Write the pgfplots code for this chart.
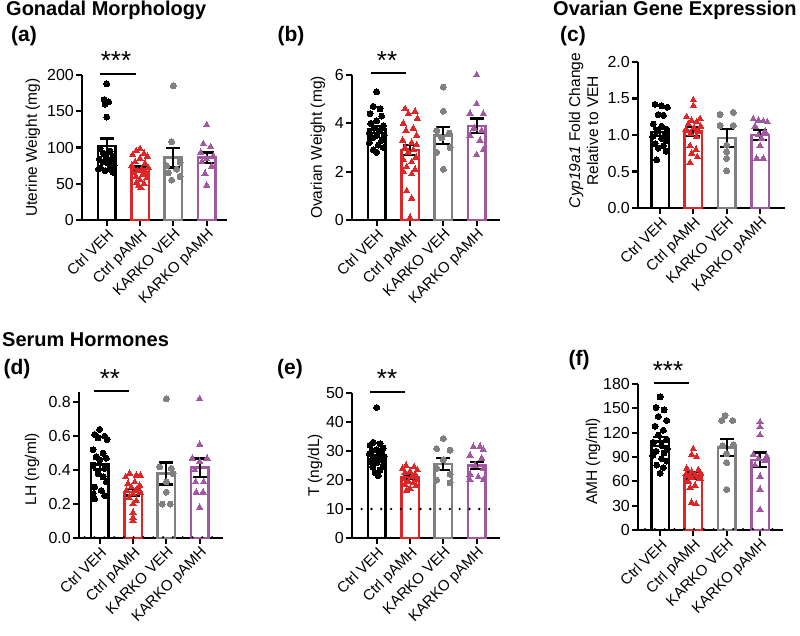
\documentclass[border=0pt]{standalone}
\usepackage{fontspec}
\setmainfont{Liberation Sans}
\usepackage{pgfplots}
\pgfplotsset{compat=1.18}
\definecolor{cred}{RGB}{222,38,38}
\definecolor{cgray}{RGB}{128,128,128}
\definecolor{cpurp}{RGB}{160,88,160}
\newcommand{\tickfont}{\fontsize{16}{18}\selectfont}
\newcommand{\xtickfont}{\fontsize{15}{17}\selectfont}
\newcommand{\labfont}{\fontsize{15.5}{18}\selectfont}
\newcommand{\titlefont}{\fontsize{20}{22}\selectfont\bfseries}
\newcommand{\letfont}{\fontsize{21}{23}\selectfont\bfseries}
\newcommand{\starfont}{\fontsize{26}{28}\selectfont}
\pgfplotsset{
  prism/.style={
    scale only axis, anchor=south west,
    axis x line*=bottom, axis y line*=left,
    axis line style={line width=2.2pt, -},
    tick style={line width=2.2pt, black},
    tick align=outside, major tick length=6pt,
    xtick={0,1,2,3},
    xticklabels={Ctrl VEH, Ctrl pAMH, KARKO VEH, KARKO pAMH},
    xticklabel style={rotate=45, anchor=north east, inner sep=1pt, font=\xtickfont},
    yticklabel style={font=\tickfont, inner sep=2pt},
    ymin=0, clip=false,
    /pgf/number format/assume math mode=true,
  },
  ylab/.style 2 args={every axis y label/.style={at={(axis description cs:#1,#2)}, rotate=90, anchor=center, font=\labfont, align=center}},
  pbar/.style={ybar, bar shift=0pt, bar width=17.5pt, fill=white, draw=#1, line width=2.5pt},
  pdot/.style={only marks, mark=*, mark size=3pt, color=#1, mark options={draw=#1, fill=#1, line width=0pt}},
  ptri/.style={only marks, mark=triangle*, mark size=3.7pt, color=#1, mark options={fill=#1, draw=#1, line width=0pt}},
  perr/.style={draw=none, mark=none, forget plot, error bars/.cd, y dir=both, y explicit,
     error bar style={draw=black, solid, line width=2.3pt},
     error mark options={draw=black, solid, line width=2.3pt, mark size=7pt, rotate=90}},
  pdotline/.style={black, line width=2.6pt, line cap=round, dash pattern=on 0pt off 9.8pt},
}
\begin{document}
\begin{tikzpicture}
\useasboundingbox (0,0) rectangle (800pt,-635pt);

% ---------- (a) ----------
\begin{axis}[prism, at={(82pt,-220pt)}, width=145pt, height=145pt,
  xmin=-0.74, xmax=3.61, ymax=200, ytick={0,50,100,150,200},
  ylabel={Uterine Weight (mg)}, ylab={-0.338}{0.5}]
\addplot[pbar=black] coordinates {(0,102)};
\addplot[pbar=cred] coordinates {(1,70.5)};
\addplot[pbar=cgray] coordinates {(2,86)};
\addplot[pbar=cpurp] coordinates {(3,86)};
\addplot[pdot=black] coordinates {(0,188) (-0.08,166) (0.06,163) (-0.05,160) (0,142) (-0.2,98) (0.1,95) (-0.1,92) (0.2,88) (0,86) (-0.22,84) (0.15,82) (-0.12,80) (0.05,78) (0.22,75) (-0.18,72) (0.1,70) (-0.05,68) (0.18,66) (-0.25,70)};
\addplot[ptri=cred] coordinates {(1,98) (0.88,95) (1.12,92) (0.78,90) (1.22,88) (1,85) (0.85,80) (1.15,78) (0.75,75) (1.25,72) (1.05,70) (0.92,68) (1.18,66) (0.8,65) (1.08,63) (0.88,60) (1.2,58) (1,55) (0.9,52) (1.12,50) (0.95,47) (1.03,44)};
\addplot[pdot=cgray] coordinates {(2,185) (1.95,108) (2.2,80) (1.8,75) (2.1,70) (1.85,65) (2.2,60) (1.95,55)};
\addplot[ptri=cpurp] coordinates {(3,131) (2.9,105) (3.12,101) (2.82,93) (3.2,88) (3,84) (2.85,80) (3.15,74) (2.95,64) (3,48)};
\addplot[perr] coordinates {(0,102) +- (0,10.5) (1,70.5) +- (0,3.3) (2,86) +- (0,13.6) (3,86) +- (0,7)};
\draw[line width=2.5pt] (axis cs:-0.2,201.5) -- (axis cs:0.88,201.5);
\end{axis}

% ---------- (b) ----------
\begin{axis}[prism, at={(352pt,-220pt)}, width=148pt, height=145pt,
  xmin=-0.74, xmax=3.70, ymax=6, ytick={0,2,4,6},
  ylabel={Ovarian Weight (mg)}, ylab={-0.23}{0.5}]
\addplot[pbar=black] coordinates {(0,3.75)};
\addplot[pbar=cred] coordinates {(1,2.9)};
\addplot[pbar=cgray] coordinates {(2,3.5)};
\addplot[pbar=cpurp] coordinates {(3,3.9)};
\addplot[pdot=black] coordinates {(0,5.3) (-0.1,4.7) (0.1,4.6) (-0.2,4.4) (0.15,4.3) (0,4.1) (-0.18,4.0) (0.2,3.9) (-0.08,3.8) (0.08,3.7) (-0.22,3.6) (0.22,3.5) (0,3.5) (-0.12,3.4) (0.15,3.3) (-0.22,3.2) (0.05,3.1) (0.2,3.0) (-0.1,2.9) (0,2.8)};
\addplot[ptri=cred] coordinates {(0.85,4.6) (1.15,4.5) (0.95,4.4) (1.22,4.2) (0.8,4.0) (1.1,3.8) (0.88,3.7) (1.2,3.5) (0.78,3.3) (1.05,3.2) (1.2,3.1) (0.85,3.0) (1.1,2.9) (0.95,2.8) (1.18,2.6) (0.8,2.5) (1.05,2.4) (0.9,2.2) (1.15,2.1) (0.8,2.0) (1.05,1.9) (0.9,1.2) (1.05,0.9) (1,0.1)};
\addplot[pdot=cgray] coordinates {(2,5.5) (2,4.5) (1.8,3.7) (2.18,3.6) (1.95,3.4) (2.2,3.0) (1.8,2.8) (2,2.1)};
\addplot[ptri=cpurp] coordinates {(3,6.0) (3,4.8) (2.8,4.4) (3.2,4.4) (2.92,3.8) (3.15,3.7) (2.8,3.5) (3.1,3.3) (3.2,2.9) (3,2.7)};
\addplot[perr] coordinates {(0,3.75) +- (0,0.14) (1,2.9) +- (0,0.2) (2,3.5) +- (0,0.36) (3,3.9) +- (0,0.3)};
\draw[line width=2.5pt] (axis cs:-0.18,6.08) -- (axis cs:0.87,6.08);
\end{axis}

% ---------- (c) ----------
\begin{axis}[prism, at={(638pt,-208pt)}, width=147pt, height=146pt,
  xmin=-0.66, xmax=3.75, ymax=2, ytick={0,0.5,1,1.5,2},
  yticklabel style={/pgf/number format/.cd, fixed, fixed zerofill, precision=1},
  ylabel={\textit{Cyp19a1} Fold Change\\Relative to VEH},
  ylab={-0.37}{0.53}]
\addplot[pbar=black] coordinates {(0,1.04)};
\addplot[pbar=cred] coordinates {(1,1.05)};
\addplot[pbar=cgray] coordinates {(2,0.96)};
\addplot[pbar=cpurp] coordinates {(3,1.0)};
\addplot[pdot=black] coordinates {(-0.15,1.42) (0.05,1.40) (0.22,1.38) (-0.05,1.28) (0.1,1.27) (-0.2,1.15) (0.05,1.12) (0.2,1.08) (-0.1,1.05) (0.15,1.00) (-0.22,0.98) (0.05,0.95) (0.2,0.92) (-0.15,0.88) (0.1,0.85) (-0.05,0.82) (0.18,0.78) (-0.1,0.66)};
\addplot[ptri=cred] coordinates {(1,1.48) (1,1.40) (0.8,1.25) (1.2,1.22) (0.95,1.20) (1.1,1.18) (0.85,1.15) (1.22,1.12) (1.02,1.10) (0.78,1.08) (1.15,1.05) (0.92,1.02) (1.1,0.98) (0.9,0.85) (1.08,0.80) (0.95,0.75) (1.12,0.70) (0.9,0.62)};
\addplot[pdot=cgray] coordinates {(1.8,1.28) (2.2,1.31) (1.8,1.13) (2.2,1.13) (2,0.86) (2,0.77) (2,0.68) (2,0.51)};
\addplot[ptri=cpurp] coordinates {(2.8,1.22) (2.95,1.20) (3.1,1.19) (3.22,1.18) (2.85,1.12) (3.15,1.05) (2.95,1.00) (3.05,0.95) (3,0.85) (2.9,0.68) (3.1,0.68)};
\addplot[perr] coordinates {(0,1.04) +- (0,0.05) (1,1.05) +- (0,0.06) (2,0.96) +- (0,0.12) (3,1.0) +- (0,0.07)};
\end{axis}

% ---------- (d) ----------
\begin{axis}[prism, at={(79pt,-538pt)}, width=144pt, height=146pt,
  xmin=-0.62, xmax=3.70, ymax=0.86, ytick={0,0.2,0.4,0.6,0.8},
  yticklabel style={/pgf/number format/.cd, fixed, fixed zerofill, precision=1},
  ylabel={LH (ng/ml)}, ylab={-0.326}{0.47}]
\addplot[pbar=black] coordinates {(0,0.434)};
\addplot[pbar=cred] coordinates {(1,0.27)};
\addplot[pbar=cgray] coordinates {(2,0.38)};
\addplot[pbar=cpurp] coordinates {(3,0.414)};
\addplot[pdotline] coordinates {(-0.45,0.004) (3.62,0.004)};
\addplot[pdot=black] coordinates {(0,0.64) (-0.15,0.61) (0.15,0.60) (-0.05,0.59) (0.22,0.58) (-0.2,0.52) (0.1,0.50) (-0.1,0.48) (0.2,0.47) (0,0.46) (-0.2,0.43) (0.15,0.41) (-0.05,0.38) (0.1,0.36) (0.2,0.33) (-0.15,0.30) (0.05,0.28) (-0.2,0.26) (0.15,0.25) (-0.15,0.23)};
\addplot[ptri=cred] coordinates {(0.9,0.38) (1.1,0.37) (1.22,0.37) (0.78,0.36) (1.05,0.33) (0.85,0.32) (1.2,0.31) (0.95,0.30) (1.12,0.29) (0.8,0.28) (1.22,0.27) (1,0.26) (0.88,0.24) (1.1,0.22) (1,0.20) (1,0.15) (1,0.12) (1,0.10)};
\addplot[pdot=cgray] coordinates {(2,0.82) (1.8,0.42) (2.15,0.41) (2.2,0.38) (2,0.33) (2,0.27) (1.88,0.20) (2.12,0.20)};
\addplot[ptri=cpurp] coordinates {(3,0.82) (3,0.55) (2.78,0.47) (3.22,0.47) (3,0.45) (2.85,0.40) (2.88,0.33) (3.12,0.33) (2.9,0.27) (3.1,0.27) (3,0.18)};
\addplot[perr] coordinates {(0,0.434) +- (0,0.03) (1,0.27) +- (0,0.02) (2,0.38) +- (0,0.064) (3,0.414) +- (0,0.055)};
\draw[line width=2.5pt] (axis cs:-0.17,0.865) -- (axis cs:0.88,0.865);
\end{axis}

% ---------- (e) ----------
\begin{axis}[prism, at={(352pt,-538pt)}, width=148pt, height=145pt,
  xmin=-0.74, xmax=3.70, ymax=50, ytick={0,10,20,30,40,50},
  ylabel={T (ng/dL)}, ylab={-0.25}{0.5}]
\addplot[pbar=black] coordinates {(0,28.5)};
\addplot[pbar=cred] coordinates {(1,21)};
\addplot[pbar=cgray] coordinates {(2,25.5)};
\addplot[pbar=cpurp] coordinates {(3,25)};
\addplot[pdotline] coordinates {(-0.45,10) (3.62,10)};
\addplot[pdot=black] coordinates {(0,45) (-0.1,33) (0.1,32.5) (-0.2,32) (0.2,31) (0,30.5) (-0.15,30) (0.15,29.5) (-0.22,29) (0.05,28.5) (0.22,28) (-0.1,27.5) (0.12,27) (-0.2,26.5) (0,26) (0.2,25) (-0.12,24.5) (0.1,23.5) (-0.05,22.5) (0.05,21.5)};
\addplot[ptri=cred] coordinates {(0.88,25) (1.12,24.5) (0.78,24) (1.22,23.5) (1,23) (0.85,22.5) (1.15,22) (1.05,21) (0.8,20.5) (1.2,20) (0.95,19.5) (1.1,19) (0.85,18.5) (1.18,18) (1,17) (0.9,16.5)};
\addplot[pdot=cgray] coordinates {(2,34.3) (1.8,30.8) (2.2,30.3) (2,27) (1.8,24) (2.2,22) (1.8,20) (2.2,19)};
\addplot[ptri=cpurp] coordinates {(2.9,31.5) (3.1,31.5) (3.2,30.5) (2.8,28.5) (3.15,27.5) (2.95,25) (3.2,24) (2.8,22) (3.05,21) (2.8,20) (3.2,20)};
\addplot[perr] coordinates {(0,28.5) +- (0,1.1) (1,21) +- (0,0.7) (2,25.5) +- (0,2.0) (3,25) +- (0,1.3)};
\draw[line width=2.5pt] (axis cs:-0.2,50.4) -- (axis cs:0.85,50.4);
\end{axis}

% ---------- (f) ----------
\begin{axis}[prism, at={(638pt,-530pt)}, width=145pt, height=146pt,
  xmin=-0.66, xmax=3.69, ymax=180, ytick={0,30,60,90,120,150,180},
  ylabel={AMH (ng/ml)}, ylab={-0.31}{0.47}]
\addplot[pbar=black] coordinates {(0,109)};
\addplot[pbar=cred] coordinates {(1,67.5)};
\addplot[pbar=cgray] coordinates {(2,102)};
\addplot[pbar=cpurp] coordinates {(3,86.5)};
\addplot[pdotline] coordinates {(-0.45,1) (3.62,1)};
\addplot[pdot=black] coordinates {(0,164) (-0.12,151) (0.12,148) (-0.05,140) (0.2,135) (-0.15,128) (0.1,123) (-0.05,117) (0.2,112) (-0.2,108) (0.05,104) (0.22,100) (-0.12,97) (0.12,95) (-0.22,92) (0.05,88) (0.2,85) (-0.1,80) (0.1,77) (0,70)};
\addplot[ptri=cred] coordinates {(1,100) (0.95,93) (1.1,90) (0.8,76) (1.15,74) (0.95,72) (1.22,70) (0.78,69) (1.05,68) (0.88,67) (1.15,66) (0.95,65) (1.2,63) (0.85,60) (1.05,55) (0.9,52) (0.95,34) (1.08,32)};
\addplot[pdot=cgray] coordinates {(1.95,141) (1.85,135) (2.18,135) (2.2,105) (1.88,104) (2,94) (2,83) (2,50)};
\addplot[ptri=cpurp] coordinates {(3,133) (3,127) (3,117) (2.8,93) (3.2,91) (2.95,88) (3.15,85) (2.85,80) (3,66) (3,50) (3,25)};
\addplot[perr] coordinates {(0,109) +- (0,5.5) (1,67.5) +- (0,4) (2,102) +- (0,10.5) (3,86.5) +- (0,9)};
\draw[line width=2.5pt] (axis cs:-0.17,181) -- (axis cs:0.88,181);
\end{axis}

% ---------- titles, letters, stars ----------
\node[anchor=base west, font=\titlefont, inner sep=0pt] at (6pt,-15pt) {Gonadal Morphology};
\node[anchor=base west, font=\titlefont, inner sep=0pt] at (553pt,-15pt) {Ovarian Gene Expression};
\node[anchor=base west, font=\titlefont, inner sep=0pt] at (2pt,-346pt) {Serum Hormones};
\node[font=\letfont, inner sep=0pt] at (24pt,-36.5pt) {(a)};
\node[font=\letfont, inner sep=0pt] at (291pt,-36.5pt) {(b)};
\node[font=\letfont, inner sep=0pt] at (573pt,-36.5pt) {(c)};
\node[font=\letfont, inner sep=0pt] at (17pt,-369.5pt) {(d)};
\node[font=\letfont, inner sep=0pt] at (290pt,-369.5pt) {(e)};
\node[font=\letfont, inner sep=0pt] at (579pt,-360pt) {(f)};
\node[font=\starfont, anchor=base, inner sep=0pt] at (116pt,-69pt) {***};
\node[font=\starfont, anchor=base, inner sep=0pt] at (387pt,-69pt) {**};
\node[font=\starfont, anchor=base, inner sep=0pt] at (110pt,-387pt) {**};
\node[font=\starfont, anchor=base, inner sep=0pt] at (387pt,-387pt) {**};
\node[font=\starfont, anchor=base, inner sep=0pt] at (668pt,-379pt) {***};
\end{tikzpicture}
\end{document}
